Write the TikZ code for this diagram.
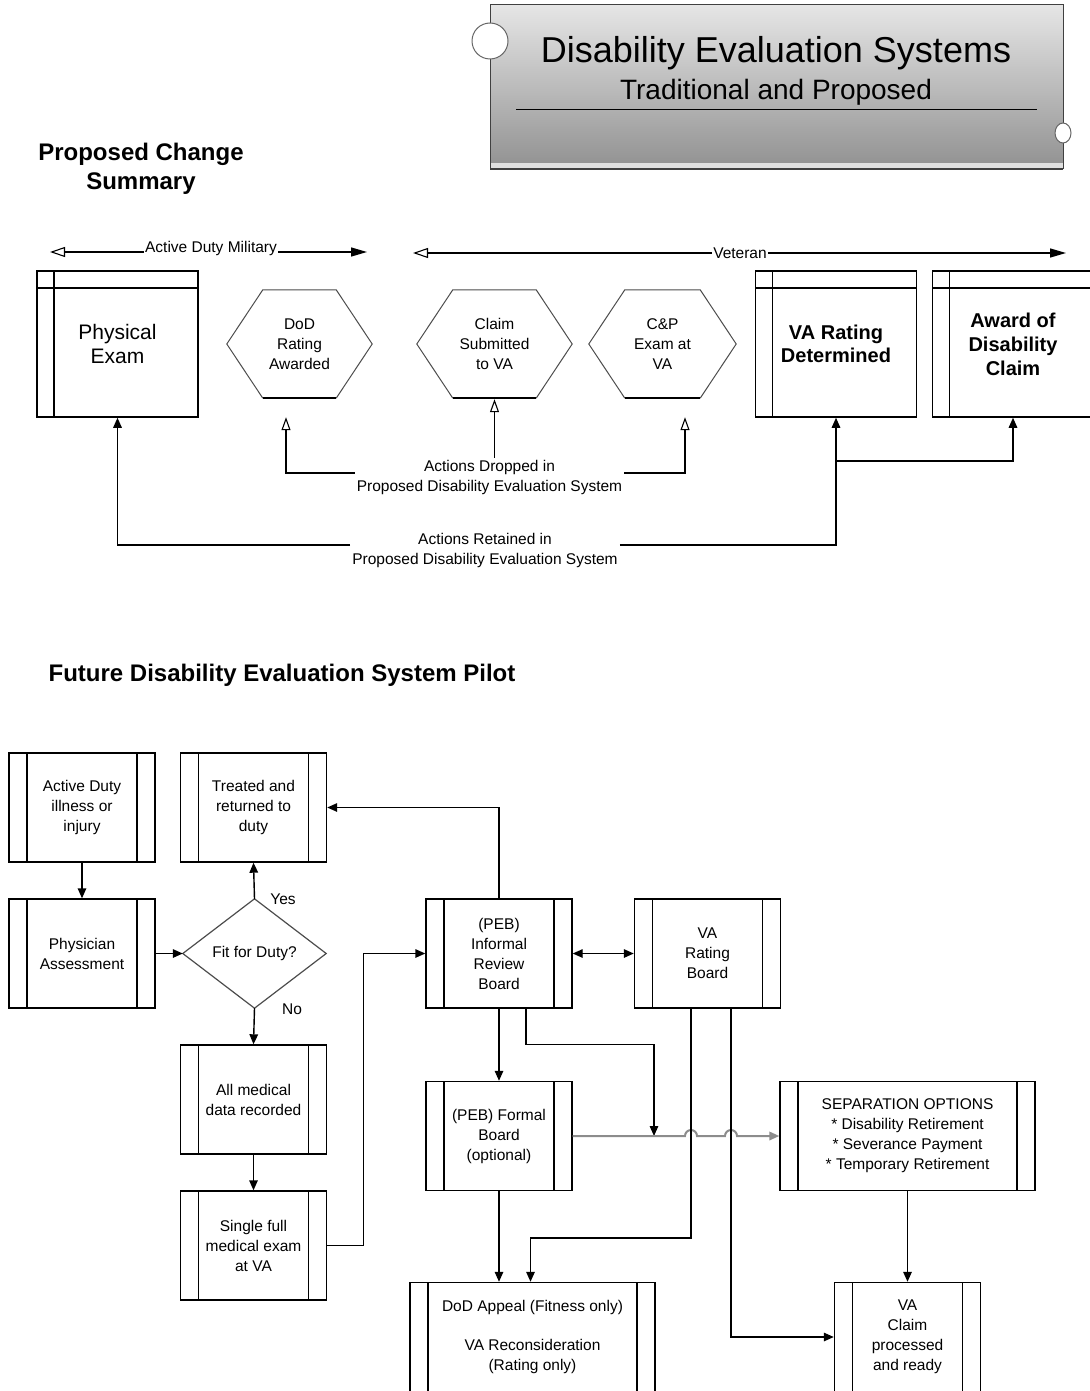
\documentclass[tikz,border=0pt]{standalone}
\usepackage{fontspec}
\setmainfont{Liberation Sans}
\usetikzlibrary{arrows.meta,calc}
\newcommand\mysz[2]{\fontsize{#1}{#2}\selectfont}
\begin{document}
\begin{tikzpicture}[x=1pt,y=-1pt,
  arr/.style={line width=1.4pt,-{Triangle[length=10pt,width=8.5pt]}},
  arrtwo/.style={line width=1.4pt,{Triangle[length=10pt,width=8.5pt]}-{Triangle[length=10pt,width=8.5pt]}},
  oarr/.style={line width=1.4pt,-{Triangle[open,length=13pt,width=9pt,line width=1.1pt]}},
  bigo/.style={line width=1.4pt,-{Triangle[open,length=15pt,width=10pt,line width=1.1pt]}},
  bigf/.style={line width=1.4pt,-{Triangle[length=16pt,width=9pt]}},
  txt/.style={font=\mysz{15.5}{20}, align=center, inner sep=2pt},
  pbox/.style={draw, line width=1.4pt, inner sep=0pt, align=center, font=\mysz{15.5}{20},
    minimum height=109pt, minimum width=146pt,
    path picture={\draw[line width=1.4pt]
      ([xshift=18pt]path picture bounding box.north west) -- ([xshift=18pt]path picture bounding box.south west)
      ([xshift=-18pt]path picture bounding box.north east) -- ([xshift=-18pt]path picture bounding box.south east);}},
  tbox/.style={draw, line width=1.5pt, inner sep=0pt, align=center, font=\mysz{21}{23.5},
    minimum height=146pt, minimum width=161pt,
    path picture={\draw[line width=1.5pt]
      ([xshift=17pt]path picture bounding box.north west) -- ([xshift=17pt]path picture bounding box.south west)
      ([yshift=-17pt]path picture bounding box.north west) -- ([yshift=-17pt]path picture bounding box.north east);}},
  hexlab/.style={font=\mysz{15.5}{20}, align=center, inner sep=0pt, minimum height=108pt},
  hexedge/.style={draw=black!70, line width=1pt},
]
\useasboundingbox (0,0) rectangle (1089,1391);

% ---------- title box ----------
\shade[top color=black!10, bottom color=black!42] (490,5) rectangle (1063,163);
\fill[black!12] (490,163) rectangle (1063,168);
\draw[black!75, line width=1pt] (490,169) -- (490,5) -- (1063,5) -- (1063,169);
\draw[black!75, line width=2pt] (490,169) -- (1063,169);
\draw[black!60, fill=white, line width=1pt] (490,41) circle[radius=18pt];
\draw[black!60, fill=white, line width=1pt] (1063,133) ellipse[x radius=8pt, y radius=10pt];
\draw[line width=1pt] (516,110) -- (1037,110);
\node[font=\mysz{36}{40}, inner sep=0pt] (ttl) at (776,53) {Disability Evaluation Systems};
\node[font=\mysz{28}{32}, inner sep=0pt] (sub) at (776,92) {Traditional and Proposed};

\node[font=\bfseries\mysz{24}{29}, align=center, inner sep=0pt] (pcs) at (141,169) {Proposed Change\\Summary};
\node[font=\bfseries\mysz{24}{29}, inner sep=0pt] (fut) at (282,675) {Future Disability Evaluation System Pilot};

% ---------- top timeline ----------
\node[txt, anchor=base, inner sep=1pt] (adm) at (211,252) {Active Duty Military};
\coordinate (admL) at (50,252);
\coordinate (admR) at (367,252);
\draw[bigo] (adm.base west) -- (admL);
\draw[bigf] (adm.base east) -- (admR);
\node[txt, inner sep=1pt] (vet) at (740,253) {Veteran};
\coordinate (vetL) at (413,253);
\coordinate (vetR) at (1066,253);
\draw[bigo] (vet.west) -- (vetL);
\draw[bigf] (vet.east) -- (vetR);

% ---------- top boxes ----------
\node[tbox] (pe) at (117.5,344) {Physical\\Exam};
\node[tbox, font=\bfseries\mysz{20}{23.5}] (vard) at (836,344) {VA Rating\\Determined};
\node[tbox, font=\bfseries\mysz{20}{24}] (award) at (1013,344) {Award of\\Disability\\Claim};

\node[hexlab, minimum width=145pt] (dod) at (299.5,344) {DoD\\Rating\\Awarded};
\node[hexlab, minimum width=155pt] (claim) at (494.5,344) {Claim\\Submitted\\to VA};
\node[hexlab, minimum width=147pt] (cp) at (662.5,344) {C\&P\\Exam at\\VA};
\foreach \h in {dod,claim,cp}{
  \draw[hexedge] ([xshift=36pt]\h.south west) -- (\h.west) -- ([xshift=36pt]\h.north west)
     -- ([xshift=-36pt]\h.north east) -- (\h.east) -- ([xshift=-36pt]\h.south east);
  \draw[line width=2pt] ([xshift=36pt]\h.south west) -- ([xshift=-36pt]\h.south east);
}

% ---------- dropped / retained ----------
\node[txt] (drop) at (489.5,477) {Actions Dropped in\\Proposed Disability Evaluation System};
\node[txt] (ret) at (485,550) {Actions Retained in\\Proposed Disability Evaluation System};
\draw[oarr] ([yshift=4pt]drop.west) -| ([xshift=-13.5pt,yshift=-19pt]dod.south);
\draw[oarr] ([yshift=4pt]drop.east) -| ([xshift=22.5pt,yshift=-19pt]cp.south);
\draw[oarr] (drop.north -| claim.south) -- ([yshift=-1pt]claim.south);
\draw[arr] ([yshift=5pt]ret.west) -| (pe.south);
\draw[arr] ([yshift=5pt]ret.east) -| (vard.south);
\coordinate (jn) at (836,461);
\draw[arr] (jn) -| (award.south);

% ---------- lower flow ----------
\node[pbox] (act) at (82,807.5) {Active Duty\\illness or\\injury};
\node[pbox] (phys) at (82,953.5) {Physician\\Assessment};
\node[pbox] (treat) at (253.5,807.5) {Treated and\\returned to\\duty};
\node[inner sep=0pt, minimum width=143pt, minimum height=109pt, font=\mysz{15.5}{20}] (fit) at (254.5,953.5) {Fit for Duty?};
\draw[black!70, line width=1.2pt] (fit.west) -- (fit.north) -- (fit.east) -- (fit.south) -- cycle;
\node[txt] (yes) at (283,899) {Yes};
\node[txt] (no) at (292,1009) {No};
\node[pbox] (allm) at (253.5,1099.5) {All medical\\data recorded};
\node[pbox] (single) at (253.5,1245.5) {Single full\\medical exam\\at VA};
\node[pbox] (pebi) at (499,953.5) {(PEB)\\Informal\\Review\\Board};
\node[pbox] (varb) at (707.5,953.5) {VA\\Rating\\Board};
\node[pbox] (pebf) at (499,1136) {(PEB) Formal\\Board\\(optional)};
\node[pbox, minimum width=255pt] (sep) at (907.5,1136) {SEPARATION OPTIONS\\* Disability Retirement\\* Severance Payment\\* Temporary Retirement};
\node[pbox, minimum width=245pt] (dodap) at (532.5,1337) {DoD Appeal (Fitness only)\\[19pt]VA Reconsideration\\(Rating only)};
\node[pbox] (vac) at (907.5,1337) {VA\\Claim\\processed\\and ready};

\draw[arr] (act.south) -- (phys.north);
\draw[arr] (phys.east) -- (fit.west);
\draw[arr] (fit.north) -- (treat.south);
\draw[arr] (fit.south) -- (allm.north);
\draw[arr] (allm.south) -- (single.north);
\draw[arr] (single.east) -- ++(36,0) |- (pebi.west);
\draw[arr] (pebi.north) |- (treat.east);
\draw[arrtwo] (pebi.east) -- (varb.west);
\draw[arr] (pebi.south) -- (pebf.north);
\coordinate (j1) at (654,1136);
\draw[arr] ([xshift=27pt]pebi.south) -- ++(0,36) -| (j1);
\draw[line width=2pt, black!45, -{Triangle[length=10pt,width=8.5pt]}]
  (pebf.east) -- (685,1136) arc[start angle=180, end angle=0, radius=6pt]
  -- (725,1136) arc[start angle=180, end angle=0, radius=6pt] -- (sep.west);
\coordinate (k2) at (530.5,1238);
\draw[arr] ([xshift=-16.5pt]varb.south) |- (k2) -- (k2 |- dodap.north);
\draw[arr] ([xshift=23.5pt]varb.south) |- (vac.west);
\draw[arr] (pebf.south) -- (pebf.south |- dodap.north);
\draw[arr] (sep.south) -- (vac.north);
\end{tikzpicture}
\end{document}
